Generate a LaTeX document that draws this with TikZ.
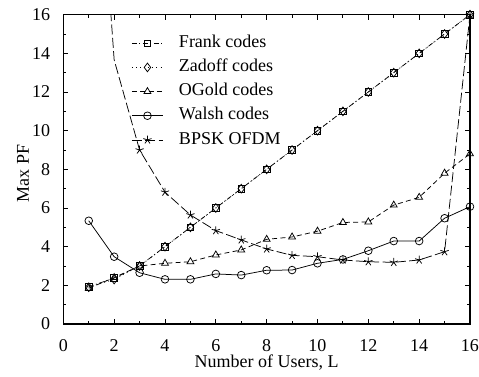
\documentclass[tikz,border=0pt]{standalone}
\usepackage{fontspec}
\setmainfont{Liberation Serif}
\usepackage{pgfplots}
\pgfplotsset{compat=1.18}
\usetikzlibrary{positioning}

\begin{document}
\begin{tikzpicture}[%
    font=\fontsize{10.8}{12}\selectfont]
    \tikzstyle{curve}=[black,line width=0.45pt,mark options={solid,line width=0.45pt}]
    % All curve styles
    \tikzstyle{frankCurve}=[curve,dash pattern=on 3pt off 1.5pt on 0.6pt off 1.5pt,mark=square,mark size=2pt]
    \tikzstyle{zadoffCurve}=[curve,dotted,mark=diamond,mark size=2.6pt]
    \tikzstyle{ogoldCurve}=[curve,dash pattern=on 3pt off 2pt,mark=triangle,mark size=2.4pt]
    \tikzstyle{walshCurve}=[curve,solid,mark=o,mark size=2.3pt]
    \tikzstyle{ofdmCurve}=[curve,dash pattern=on 6pt off 2pt,mark=star,mark size=2.6pt,mark phase=2]
    % Picture frame
    \useasboundingbox (-38pt,-31.8pt) rectangle (249.4pt,194.4pt);
    \begin{axis}[
      at={(0,0)},anchor=south west,
      scale only axis,width=244pt,height=185.6pt,
      xmin=0,xmax=16,ymin=0,ymax=16,
      xtick={0,2,...,16},ytick={0,2,...,16},
      minor xtick={1,3,...,15},minor ytick={1,3,...,15},
      tick align=inside,tick pos=both,
      major tick length=3pt,minor tick length=1.8pt,
      axis line style={line width=0.8pt},
      every tick/.style={black,line width=0.5pt},
      xticklabel={\pgfmathprintnumber[assume math mode=true]{\tick}},
      yticklabel={\pgfmathprintnumber[assume math mode=true]{\tick}},
      xticklabel style={yshift=-6pt},
      yticklabel style={xshift=-4.4pt},
      xlabel={Number of Users, L},
      ylabel={Max PF},
      xlabel style={at={(axis description cs:0.5,-0.126)},anchor=center},
      ylabel style={at={(axis description cs:-0.099,0.487)},anchor=center},
      legend cell align=left,
      legend style={at={(axis description cs:0.167,0.941)},anchor=north west,
        draw=none,fill=none,inner sep=0pt,column sep=8.4pt,row sep=2.5pt,
        nodes={inner sep=1pt,text height=7.5pt,text depth=2.5pt}},
      legend image code/.code={\draw[mark repeat=2,mark phase=2,#1]
        plot coordinates {(0pt,0pt) (9.3pt,0pt) (18.6pt,0pt)};},
    ]
      % Frank codes
      \addplot[frankCurve] coordinates {(1,1.93) (2,2.37) (3,3) (4,4) (5,5) (6,6) (7,7) (8,8)
        (9,9) (10,10) (11,11) (12,12) (13,13) (14,14) (15,15) (16,16)};
      \addlegendentry{Frank codes}
      % Zadoff codes
      \addplot[zadoffCurve] coordinates {(1,1.9) (2,2.3) (3,3) (4,4) (5,5) (6,6) (7,7) (8,8)
        (9,9) (10,10) (11,11) (12,12) (13,13) (14,14) (15,15) (16,16)};
      \addlegendentry{Zadoff codes}
      % OGold codes
      \addplot[ogoldCurve] coordinates {(1,1.85) (2,2.4) (3,3.0) (4,3.14) (5,3.22) (6,3.57)
        (7,3.83) (8,4.38) (9,4.5) (10,4.8) (11,5.25) (12,5.28) (13,6.15) (14,6.55) (15,7.8) (16,8.8)};
      \addlegendentry{OGold codes}
      % Walsh codes
      \addplot[walshCurve] coordinates {(1,5.34) (2,3.48) (3,2.65) (4,2.31) (5,2.31) (6,2.59)
        (7,2.53) (8,2.78) (9,2.79) (10,3.14) (11,3.34) (12,3.79) (13,4.29) (14,4.29) (15,5.47) (16,6.07)};
      \addlegendentry{Walsh codes}
      % BPSK OFDM
      \addplot[ofdmCurve] coordinates {(1,32) (2,13.66) (3,9.0) (4,6.82) (5,5.64) (6,4.83)
        (7,4.35) (8,3.88) (9,3.55) (10,3.48) (11,3.31) (12,3.22) (13,3.19) (14,3.31) (15,3.74) (16,16)};
      \addlegendentry{BPSK OFDM}
    \end{axis}
  \end{tikzpicture}
\end{document}
